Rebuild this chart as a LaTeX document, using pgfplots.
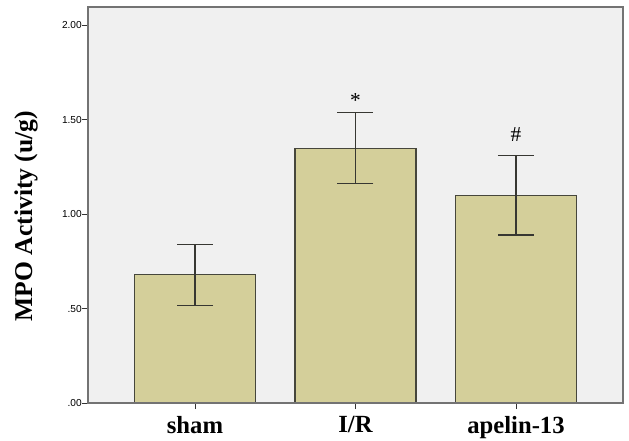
\documentclass[border=0pt]{standalone}
\usepackage{pgfplots}
\pgfplotsset{compat=1.18}
\usepackage{fontspec}
\setmainfont{Liberation Serif}
\newfontfamily\arialfont{Liberation Sans}
\definecolor{bgcol}{RGB}{240,240,240}
\definecolor{barfill}{RGB}{212,207,154}
\definecolor{baredge}{RGB}{70,70,60}
\definecolor{errcol}{RGB}{55,55,50}
\begin{document}
\begin{tikzpicture}
\useasboundingbox (-66pt,-27.75pt) rectangle (405.75pt,302.25pt);
\begin{axis}[
  name=ax,
  at={(0,0)}, anchor=south west,
  width=401.25pt, height=297pt, scale only axis,
  xmin=-0.6667, xmax=2.6667,
  ymin=0, ymax=2.0975,
  axis background/.style={fill=bgcol},
  axis line style={draw=black!55, line width=0.8pt},
  axis on top,
  xtick={0,1,2},
  xticklabels={sham,I/R,apelin-13},
  ytick={0,0.5,1,1.5,2},
  yticklabels={.00,.50,1.00,1.50,2.00},
  tick align=outside,
  major tick length=4.5pt,
  tick style={draw=black!80, line width=0.7pt},
  xtick pos=bottom, ytick pos=left,
  xticklabel style={font=\bfseries\fontsize{18.5}{18.5}\selectfont, yshift=-2pt},
  yticklabel style={font=\arialfont\fontsize{7.6}{7.6}\selectfont, anchor=east, inner sep=0pt, xshift=0pt},
  /pgf/number format/assume math mode=true,
  ylabel={MPO Activity (u/g)},
  every axis y label/.style={at={(rel axis cs:0,0.472)}, xshift=-46.5pt, anchor=center, rotate=90, font=\bfseries\fontsize{19.2}{19.2}\selectfont},
  clip=false,
]
\addplot[ybar, bar width=0.754, fill=barfill, draw=baredge, line width=0.9pt,
  error bars/.cd, y dir=both, y explicit,
  error bar style={draw=errcol, line width=0.8pt},
  error mark options={draw=errcol, line width=0.8pt, mark size=13.5pt, rotate=90}]
  coordinates {
    (0,0.68) +- (0,0.162)
    (1,1.35) +- (0,0.188)
    (2,1.10) +- (0,0.210)
  };
\draw[black!80, line width=0.9pt] (rel axis cs:0,1) -- (rel axis cs:0,0) -- (rel axis cs:1,0);
\node[font=\fontsize{16}{16}\selectfont] at (axis cs:1,1.60) {*};
\node[font=\fontsize{16}{16}\selectfont] at (axis cs:2,1.42) {\#};
\end{axis}
\end{tikzpicture}
\end{document}
